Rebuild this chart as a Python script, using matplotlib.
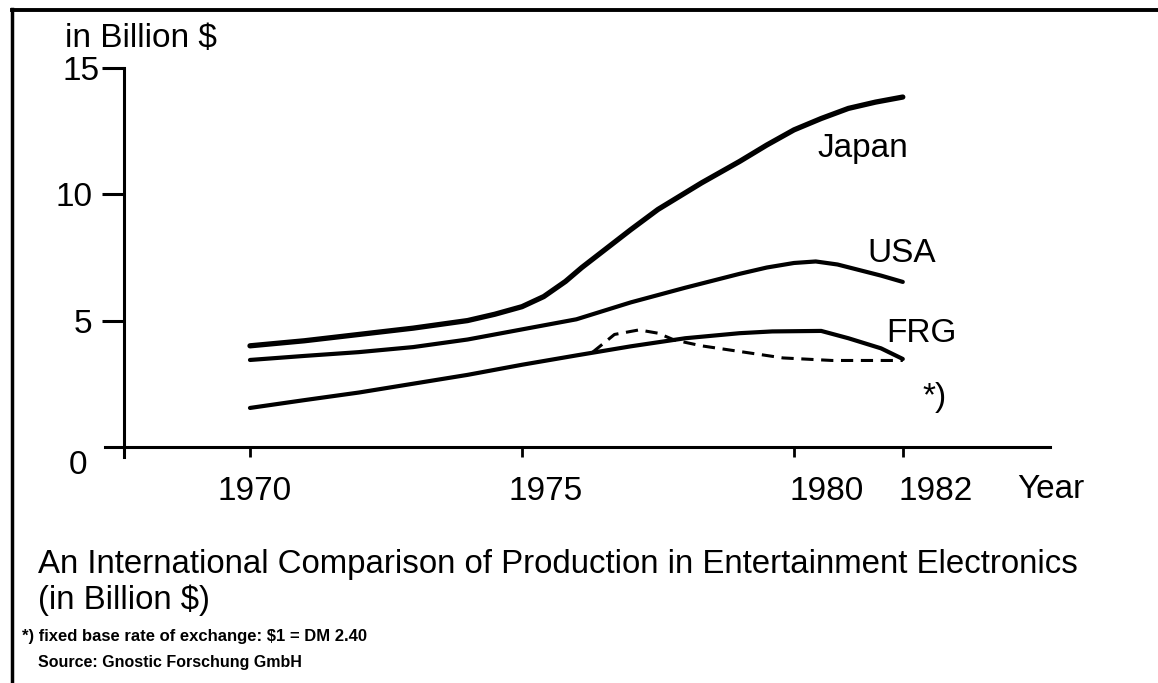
import matplotlib
matplotlib.use("Agg")
import matplotlib.pyplot as plt
from matplotlib import font_manager
from matplotlib.lines import Line2D
from matplotlib.transforms import ScaledTranslation

# values, billion $
japan_years = [1970, 1971, 1972, 1973, 1974, 1974.5, 1975, 1975.4, 1975.8,
               1976.1, 1976.4, 1976.7, 1977, 1977.5, 1978.3, 1979, 1979.5,
               1980, 1980.5, 1981, 1981.5, 1982]
japan_vals = [4.0, 4.2, 4.45, 4.7, 5.0, 5.25, 5.55, 5.95, 6.55,
              7.1, 7.6, 8.1, 8.6, 9.4, 10.45, 11.3, 11.95,
              12.55, 13.0, 13.4, 13.65, 13.85]

usa_years = [1970, 1971, 1972, 1973, 1974, 1975, 1976, 1977, 1978, 1979,
             1979.5, 1980, 1980.4, 1980.8, 1981.2, 1981.6, 1982]
usa_vals = [3.44, 3.6, 3.75, 3.95, 4.25, 4.65, 5.05, 5.72, 6.3, 6.85,
            7.1, 7.28, 7.34, 7.22, 7.0, 6.78, 6.53]

frg_years = [1970, 1971, 1972, 1973, 1974, 1975, 1976, 1977, 1978, 1979,
             1979.6, 1980.5, 1981, 1981.6, 1982]
frg_vals = [1.54, 1.85, 2.15, 2.5, 2.85, 3.25, 3.62, 3.98, 4.3, 4.5,
            4.57, 4.59, 4.3, 3.9, 3.48]

# FRG at fixed exchange rate ($1 = DM 2.40)
frg_fixed_years = [1976.3, 1976.7, 1977.15, 1977.5, 1977.8, 1978.3, 1978.8,
                   1979.8, 1980.7, 1982]
frg_fixed_vals = [3.75, 4.45, 4.63, 4.5, 4.23, 4.0, 3.84, 3.52, 3.42, 3.42]

year_ticks = [1970, 1975, 1980, 1982]
year_labels = ["1970", "1975", "1980", "1982"]
value_ticks = [5, 10, 15]
value_labels = ["5", "10", "15"]

W, H = 1158, 683
FONT = "Liberation Sans"
BIG = 24
names = {f.name for f in font_manager.fontManager.ttflist}
NARROW = "Liberation Sans Narrow" if "Liberation Sans Narrow" in names else FONT
small_size = 14 if NARROW != FONT else 12

plt.rcParams["font.family"] = [FONT, "DejaVu Sans"]

fig = plt.figure(figsize=(W / 100, H / 100), dpi=100)

# axes placed so that 1970 -> x=250px, 0 -> y=447px (as in the scan)
x0, x1 = 1967.335, 1984.706
y0, y1 = -0.6, 15.0
ax = fig.add_axes([105 / W, 1 - 462 / H, 945 / W, (462 - 68) / H])
ax.set_xlim(x0, x1)
ax.set_ylim(y0, y1)
ax.patch.set_visible(False)

ax.spines["top"].set_visible(False)
ax.spines["right"].set_visible(False)
ax.spines["left"].set_position(("data", 1967.68))
ax.spines["left"].set_bounds(-0.4, 15)
ax.spines["bottom"].set_position(("data", 0))
for s in ("left", "bottom"):
    ax.spines[s].set_linewidth(2.2)

ax.plot(japan_years, japan_vals, color="black", lw=3.8,
        solid_capstyle="round", solid_joinstyle="round")
ax.plot(usa_years, usa_vals, color="black", lw=3.0,
        solid_capstyle="round", solid_joinstyle="round")
ax.plot(frg_years, frg_vals, color="black", lw=3.0,
        solid_capstyle="round", solid_joinstyle="round")
ax.plot(frg_fixed_years, frg_fixed_vals, color="black", lw=2.2,
        linestyle=(0, (4, 2.5)))

ax.set_yticks(value_ticks)
ax.set_yticklabels(value_labels, fontsize=BIG)
ax.tick_params(axis="y", direction="out", length=15.8, width=2.2, pad=7)
yt = ax.yaxis.get_major_ticks()
yt[2].tick1line.set_markersize(8)
yt[2].set_pad(1.5)

ax.set_xticks(year_ticks)
ax.set_xticklabels(year_labels, fontsize=BIG)
ax.tick_params(axis="x", direction="out", length=7, width=2.0, pad=14)
shifts = [5, 24, 33, 33]
for lab, dx in zip(ax.get_xticklabels(), shifts):
    lab.set_transform(lab.get_transform() + ScaledTranslation(dx / 100, 0, fig.dpi_scale_trans))

# series labels
ax.text(1980.44, 11.48, "Japan", fontsize=BIG, va="baseline")
ax.text(1981.35, 7.32, "USA", fontsize=BIG, va="baseline")
ax.text(1981.7, 4.16, "FRG", fontsize=BIG, va="baseline")
ax.text(1982.37, 1.62, "*)", fontsize=BIG, va="baseline")

# axis captions
fig.text(65 / W, 1 - 47 / H, "in Billion $", fontsize=BIG, va="baseline")
fig.text(87 / W, 1 - 465 / H, "0", fontsize=BIG, ha="right", va="center")
fig.text(1017 / W, 1 - 490 / H, "Year", fontsize=BIG, va="center")

# title / notes below the chart
fig.text(38 / W, 1 - 565 / H,
         "An International Comparison of Production in Entertainment Electronics",
         fontsize=23.8, va="center")
fig.text(38 / W, 1 - 600 / H, "(in Billion $)", fontsize=23.8, va="center")
fig.text(22 / W, 1 - 637 / H, "*) fixed base rate of exchange: $1 = DM 2.40",
         fontsize=small_size, family=NARROW, weight="bold", va="center")
fig.text(38 / W, 1 - 663 / H, "Source: Gnostic Forschung GmbH",
         fontsize=small_size - 0.5, family=NARROW, weight="bold", va="center")

# frame of the scanned figure (left and top edge)
fig.add_artist(Line2D([12 / W, 12 / W], [0, 1 - 9 / H], color="black", lw=2.5,
                      transform=fig.transFigure))
fig.add_artist(Line2D([12 / W, 1], [1 - 10 / H, 1 - 10 / H], color="black", lw=2.8,
                      transform=fig.transFigure))

fig.savefig("out.png", dpi=100)
